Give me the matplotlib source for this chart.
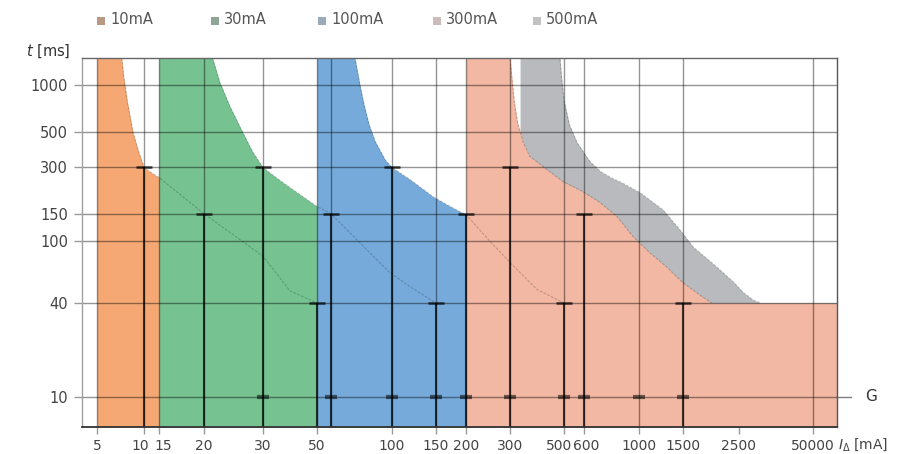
import numpy as np
import matplotlib
matplotlib.use("Agg")
import matplotlib.pyplot as plt
import matplotlib.transforms as mtransforms
from matplotlib.patches import Rectangle
from matplotlib.ticker import FixedLocator, FixedFormatter, NullLocator

plt.rcParams['font.family'] = ['DejaVu Sans']

# ---------------- data ----------------
series_labels = ["10mA", "30mA", "100mA", "300mA", "500mA"]

# tripping-time characteristics: current [mA] -> time [ms]
i_10 = [5, 7.2, 7.4, 7.8, 8.5, 9.2, 10, 15, 20, 30, 38.7, 50]
t_10 = [1500, 1500, 1150, 800, 499, 380, 297, 256, 150, 80, 48, 40]

i_30 = [15, 21.2, 22.3, 23.9, 26.1, 28.0, 30, 36.2, 42.6, 50, 60, 81, 98, 118, 150]
t_30 = [1500, 1500, 1045, 733, 499, 371, 297, 238, 199, 167, 150, 88, 63, 51, 40]

i_100 = [50, 73.3, 74.6, 76.5, 79.0, 82.5, 86.7, 94.3, 100, 118, 146, 172, 200, 249, 300, 387, 500]
t_100 = [1500, 1500, 1270, 1000, 760, 560, 440, 334, 297, 249, 193, 167, 148, 100, 73, 49, 40]

i_300 = [200, 300, 305, 312, 322, 340, 362, 426, 496, 594, 696, 815, 946, 1107, 1294, 1500, 1752, 1950]
t_300 = [1500, 1500, 1150, 800, 580, 430, 350, 288, 241, 208, 177, 144, 107, 84, 68, 54, 45, 40]

i_500 = [330, 481, 488, 500, 525, 563, 634, 700, 764, 850, 1009, 1247, 1459, 1643, 2046, 2367, 2940, 4400, 6000]
t_500 = [1500, 1500, 1150, 800, 560, 430, 325, 280, 258, 238, 205, 159, 118, 92, 68, 55, 47, 42, 40]

# limit markers (current, time)
marker_currents = [10, 20, 30, 50, 60, 100, 150, 200, 300, 500, 600, 1500]
marker_times = [300, 150, 300, 40, 150, 300, 40, 150, 300, 40, 150, 40]
g_mark_currents = [30, 60, 100, 150, 200, 300, 500, 600, 1000, 1500]
g_level = 10

x_tick_values = [5, 10, 15, 20, 30, 50, 100, 150, 200, 300, 500, 600, 1000, 1500, 2500, 50000]
x_grid_values = [5, 10, 15, 20, 30, 50, 60, 100, 150, 200, 300, 500, 600, 1000, 1500, 50000]
y_tick_values = [10, 40, 100, 150, 300, 500, 1000]

# ---------------- style / layout ----------------
colors = ["#F6A874", "#76C391", "#76AADA", "#F2B8A3", "#B8BABD"]
legend_colors = ["#B89A84", "#8FA595", "#9AAAB8", "#CDBDBA", "#C2C2C2"]
legend_x_px = [97, 211, 318, 433, 533]
label_nudge_px = {10: -4, 15: 4, 500: -5, 600: 2}

# axis break-point mapping (tick value -> pixel column of the reference layout)
scale_vals = [4, 5, 10, 15, 20, 30, 50, 60, 100, 150, 200, 300, 500, 600, 1000, 1500, 2500, 50000, 120000]
scale_px = [82, 97, 144, 159, 204, 263, 317, 331, 392, 436, 466, 510, 564, 584, 639, 683, 739, 813, 837]
_lv = np.log10(scale_vals)


def fwd(x):
    x = np.asarray(x, dtype=float)
    return np.interp(np.log10(np.clip(x, 1e-6, None)), _lv, scale_px)


def inv(p):
    p = np.asarray(p, dtype=float)
    return 10 ** np.interp(p, scale_px, _lv)


W, H = 900, 454
fig = plt.figure(figsize=(W / 100, H / 100), dpi=100)
ax = fig.add_axes([82 / W, 1 - 427 / H, 755 / W, 369 / H])
ax.set_xscale('function', functions=(fwd, inv))
ax.set_yscale('log')
XMIN, XMAX = scale_vals[0], scale_vals[-1]
YMIN, YMAX = 6.4, 1500
ax.set_xlim(XMIN, XMAX)
ax.set_ylim(YMIN, YMAX)

series = [(i_10, t_10), (i_30, t_30), (i_100, t_100), (i_300, t_300), (i_500, t_500)]
draw_order = [0, 1, 2, 4, 3]
for k, idx in enumerate(draw_order):
    xi, ti = series[idx]
    xs = np.append(xi, XMAX)
    ts = np.append(ti, ti[-1])
    ax.fill_between(xs, YMIN, ts, color=colors[idx], lw=0, zorder=1 + k * 0.01)

# grid
for v in x_grid_values:
    ax.axvline(v, color='black', alpha=0.42, lw=1.0, zorder=2)
for v in y_tick_values:
    ax.axhline(v, color='black', alpha=0.42, lw=1.0, zorder=2)

# G line extension
blend = mtransforms.blended_transform_factory(ax.transAxes, ax.transData)
ax.plot([1.0, 1.018], [g_level, g_level], transform=blend, clip_on=False,
        color='black', alpha=0.5, lw=1.0)
ax.text(1.037, g_level, "G", transform=blend, ha='left', va='center',
        fontsize=11, color='#333333')

# faint characteristic lines
for xi, ti in series:
    ax.plot(xi, ti, color='black', alpha=0.2, lw=0.8, ls=(0, (2.5, 1.2)), zorder=2.5)

# markers
ax.vlines(marker_currents, YMIN, marker_times, color='black', alpha=0.72, lw=1.5, zorder=4)
ax.plot(marker_currents, marker_times, ls='none', marker='_', ms=12, mew=1.8,
        color='black', alpha=0.72, zorder=4)
ax.plot(g_mark_currents, [g_level] * len(g_mark_currents), ls='none', marker='_', ms=8,
        mew=3, color='black', alpha=0.55, zorder=4)

# ticks
ax.xaxis.set_major_locator(FixedLocator(x_tick_values))
ax.xaxis.set_major_formatter(FixedFormatter([str(v) for v in x_tick_values]))
ax.xaxis.set_minor_locator(NullLocator())
ax.yaxis.set_major_locator(FixedLocator(y_tick_values))
ax.yaxis.set_major_formatter(FixedFormatter([str(v) for v in y_tick_values]))
ax.yaxis.set_minor_locator(NullLocator())
ax.tick_params(axis='x', length=5, width=1, color='#999999', pad=4,
               labelsize=10, labelcolor='#444444')
ax.tick_params(axis='y', length=6, width=1, color='#999999', pad=4,
               labelsize=10.5, labelcolor='#444444')

for v, lab in zip(x_tick_values, ax.get_xticklabels()):
    if v in label_nudge_px:
        lab.set_transform(lab.get_transform() + mtransforms.ScaledTranslation(
            label_nudge_px[v] / 100, 0, fig.dpi_scale_trans))

for side, c, lw in [('left', '#A0A0A0', 1.0), ('bottom', '#333333', 1.3),
                    ('right', '#555555', 1.0), ('top', '#666666', 1.0)]:
    ax.spines[side].set_color(c)
    ax.spines[side].set_linewidth(lw)
    ax.spines[side].set_zorder(5)

# axis labels
fig.text(70 / W, 1 - 51 / H, r"$t$ [ms]", ha='right', va='center', fontsize=10.5, color='#333333')
fig.text(838 / W, 1 - 445 / H, r"$I_\Delta$ [mA]", ha='left', va='center', fontsize=10, color='#444444')

# legend
for lab, c, xp in zip(series_labels, legend_colors, legend_x_px):
    fig.patches.append(Rectangle((xp / W, 1 - 25 / H), 8 / W, 8 / H,
                                 transform=fig.transFigure, color=c, lw=0))
    fig.text((xp + 13) / W, 1 - 20 / H, lab, ha='left', va='center',
             fontsize=10.5, color='#555555')

fig.savefig("out.png", dpi=100)
